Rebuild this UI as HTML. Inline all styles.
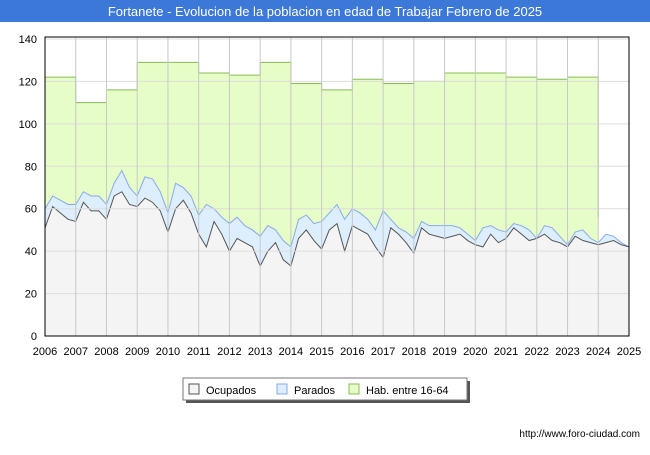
<!DOCTYPE html>
<html><head><meta charset="utf-8"><style>
body{margin:0;background:#fff;font-family:"Liberation Sans",sans-serif}
</style></head><body>
<svg width="650" height="450" xmlns="http://www.w3.org/2000/svg" font-family="Liberation Sans, sans-serif">
<rect x="0" y="0" width="650" height="22" fill="#3b78d8"/>
<text x="325" y="16" text-anchor="middle" font-size="13" fill="#fff">Fortanete - Evolucion de la poblacion en edad de Trabajar Febrero de 2025</text>
<g id="plot"></g>
<g>
<rect x="186" y="381" width="284" height="22" fill="#555"/>
<rect x="183" y="378" width="284" height="22" fill="#fff" stroke="#777"/>
<rect x="189" y="384" width="10" height="10" fill="#f4f4f4" stroke="#555"/>
<text x="206" y="394" font-size="11">Ocupados</text>
<rect x="277" y="384" width="10" height="10" fill="#ddeeff" stroke="#88aaee"/>
<text x="294" y="394" font-size="11">Parados</text>
<rect x="349" y="384" width="10" height="10" fill="#e6fdc8" stroke="#88bb55"/>
<text x="366" y="394" font-size="11">Hab. entre 16-64</text>
</g>
<text x="640" y="437" text-anchor="end" font-size="10">http://www.foro-ciudad.com</text>
</svg>
<script>
const years=[2006,2007,2008,2009,2010,2011,2012,2013,2014,2015,2016,2017,2018,2019,2020,2021,2022,2023,2024,2025];
const yTicks=[0,20,40,60,80,100,120,140];
const hab=[122,110,116,129,129,124,123,129,119,116,121,119,120,124,124,122,121,122,56];
const ocupados=[51,61,58,55,54,63,59,59,55,66,68,62,61,65,63,59,49,60,64,58,48,42,54,48,40,46,44,42,33,40,44,36,33,46,50,45,41,50,53,40,52,50,48,42,37,51,48,44,39,51,48,47,46,47,48,45,43,42,48,44,46,51,48,45,46,48,45,44,42,47,45,44,43,44,45,43,42];
const parados=[9,5,6,7,8,5,7,7,7,6,10,8,5,10,11,9,9,12,6,8,9,20,6,8,13,10,8,8,14,12,6,9,9,9,7,8,13,8,9,15,8,8,7,8,22,4,3,5,7,3,4,5,6,5,3,3,2,9,4,6,3,2,4,5,0,4,6,3,1,2,5,2,1,4,2,1,0];
const X0=45,X1=629,Y0=336,Y1=39;
const xs=t=>X0+(t-2006)/19*(X1-X0);
const ys=v=>Y0-v/140*(Y0-Y1);
const NS='http://www.w3.org/2000/svg';
const g=document.getElementById('plot');
function mk(tag,attrs){const e=document.createElementNS(NS,tag);for(const k in attrs)e.setAttribute(k,attrs[k]);g.appendChild(e);return e;}
mk('rect',{x:X0,y:37,width:X1-X0,height:Y0-37,fill:'#fff'});
// hab area (step)
let hp=`M${xs(2006)},${ys(0)}`;
hab.forEach((v,i)=>{hp+=` L${xs(2006+i)},${ys(v)} L${xs(2006+Math.min(i+1,18))},${ys(v)}`;});
hp+=` L${xs(2024)},${ys(0)} Z`;
let a=mk('path',{d:hp,fill:'#e6fdc8'});


let hl=`M${xs(2006)},${ys(hab[0])}`;
hab.forEach((v,i)=>{if(i<18){hl+=` L${xs(2006+i)},${ys(v)} L${xs(2006+i+1)},${ys(v)}`;}else{hl+=` L${xs(2024)},${ys(v)}`;}});
let l=mk('path',{d:hl,fill:'none',stroke:'#88bb55','stroke-width':1});


// totals
const tOf=i=>2006+i*0.25;
let tp=`M${xs(2006)},${ys(0)}`;
ocupados.forEach((o,i)=>{tp+=` L${xs(tOf(i))},${ys(o+parados[i])}`;});
tp+=` L${xs(tOf(ocupados.length-1))},${ys(0)} Z`;
let pa=mk('path',{d:tp,fill:'#ddeeff',stroke:'#88aaee','stroke-width':1});


let op=`M${xs(2006)},${ys(0)}`;
ocupados.forEach((o,i)=>{op+=` L${xs(tOf(i))},${ys(o)}`;});
op+=` L${xs(tOf(ocupados.length-1))},${ys(0)} Z`;
let oa=mk('path',{d:op,fill:'#f4f4f4',stroke:'#555','stroke-width':1});


// grid
yTicks.forEach(v=>{
 if(v>0){let gl=mk('line',{x1:X0,x2:X1,y1:ys(v),y2:ys(v),stroke:'#ddd','stroke-width':1});
 
 }
 let t=mk('text',{x:37,y:ys(v)+4,'text-anchor':'end','font-size':11});t.textContent=v;
 
 
});
years.forEach(y=>{
 let gl=mk('line',{x1:xs(y),x2:xs(y),y1:37,y2:Y0,stroke:'#c8c8c8','stroke-width':1});
 
 
 let t=mk('text',{x:xs(y),y:355,'text-anchor':'middle','font-size':11});t.textContent=y;
 
 
});
let ax=mk('path',{d:`M${X0},37 L${X0},${Y0} L${X1},${Y0} L${X1},37 Z`,fill:'none',stroke:'#000','stroke-width':1});


</script>
</body></html>
